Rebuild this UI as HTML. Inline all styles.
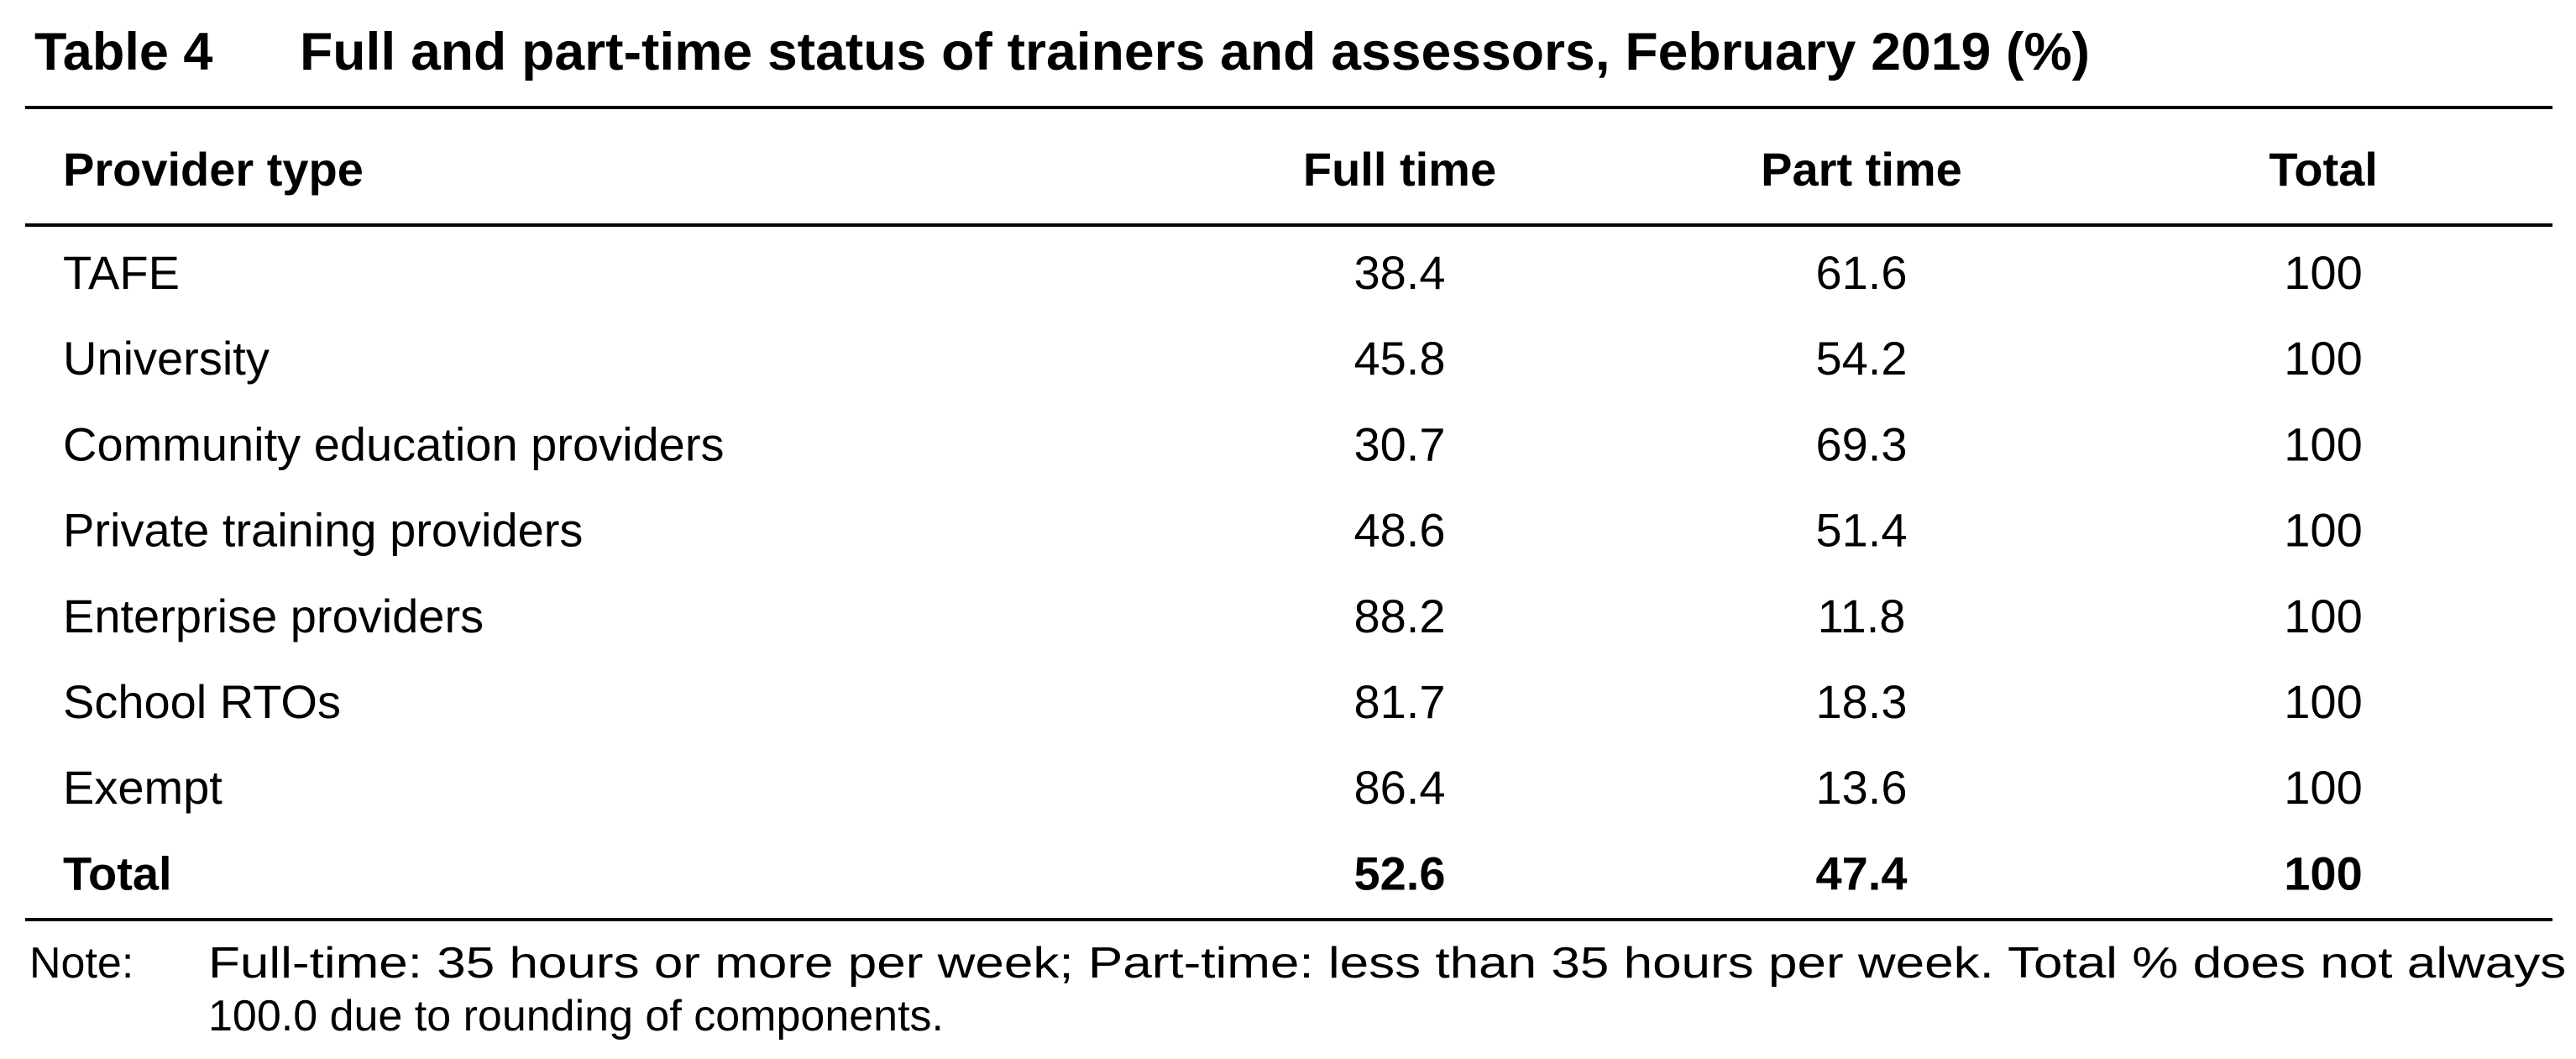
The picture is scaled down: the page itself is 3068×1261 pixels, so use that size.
<!DOCTYPE html>
<html><head><meta charset="utf-8"><style>
html,body{margin:0;padding:0;background:#fff;}
svg{display:block;}
text{font-family:"Liberation Sans",Arial,sans-serif;fill:#000;}
</style></head><body>
<svg width="3068" height="1261" viewBox="0 0 3068 1261">
<text x="41" y="83" font-size="63" font-weight="bold">Table 4</text>
<text x="357" y="83" font-size="63" font-weight="bold" textLength="2132" lengthAdjust="spacingAndGlyphs">Full and part-time status of trainers and assessors, February 2019 (%)</text>
<rect x="30" y="126" width="3010" height="4"/>
<text x="75" y="221" font-size="56" font-weight="bold">Provider type</text>
<text x="1667" y="221" font-size="56" font-weight="bold" text-anchor="middle">Full time</text>
<text x="2217" y="221" font-size="56" font-weight="bold" text-anchor="middle">Part time</text>
<text x="2767" y="221" font-size="56" font-weight="bold" text-anchor="middle">Total</text>
<rect x="30" y="266" width="3010" height="4"/>
<g id="rows"></g>
<rect x="30" y="1093" width="3010" height="4"/>
<text x="35" y="1164" font-size="52">Note:</text>
<text x="248" y="1164" font-size="52" textLength="2998" lengthAdjust="spacingAndGlyphs">Full-time: 35 hours or more per week; Part-time: less than 35 hours per week. Total % does not always add to</text>
<text x="248" y="1227" font-size="52">100.0 due to rounding of components.</text>
</svg>
<script>
const providers=["TAFE","University","Community education providers","Private training providers","Enterprise providers","School RTOs","Exempt","Total"];
const fullTime=["38.4","45.8","30.7","48.6","88.2","81.7","86.4","52.6"];
const partTime=["61.6","54.2","69.3","51.4","11.8","18.3","13.6","47.4"];
const totals=["100","100","100","100","100","100","100","100"];
const g=document.getElementById('rows');
const NS="http://www.w3.org/2000/svg";
function mk(x,y,txt,anchor,bold){
  const t=document.createElementNS(NS,'text');
  t.setAttribute('x',x);t.setAttribute('y',y);t.setAttribute('font-size','56');
  if(anchor)t.setAttribute('text-anchor',anchor);
  if(bold)t.setAttribute('font-weight','bold');
  t.textContent=txt;g.appendChild(t);return t;
}
providers.forEach((p,i)=>{
  const y=344+i*102.2;const b=i===providers.length-1;
  let t=mk(75,y,p,null,b);
  
  
  t=mk(1667,y,fullTime[i],'middle',b);
  
  
  t=mk(2217,y,partTime[i],'middle',b);
  
  
  t=mk(2767,y,totals[i],'middle',b);
  
  
});
</script>
</body></html>
